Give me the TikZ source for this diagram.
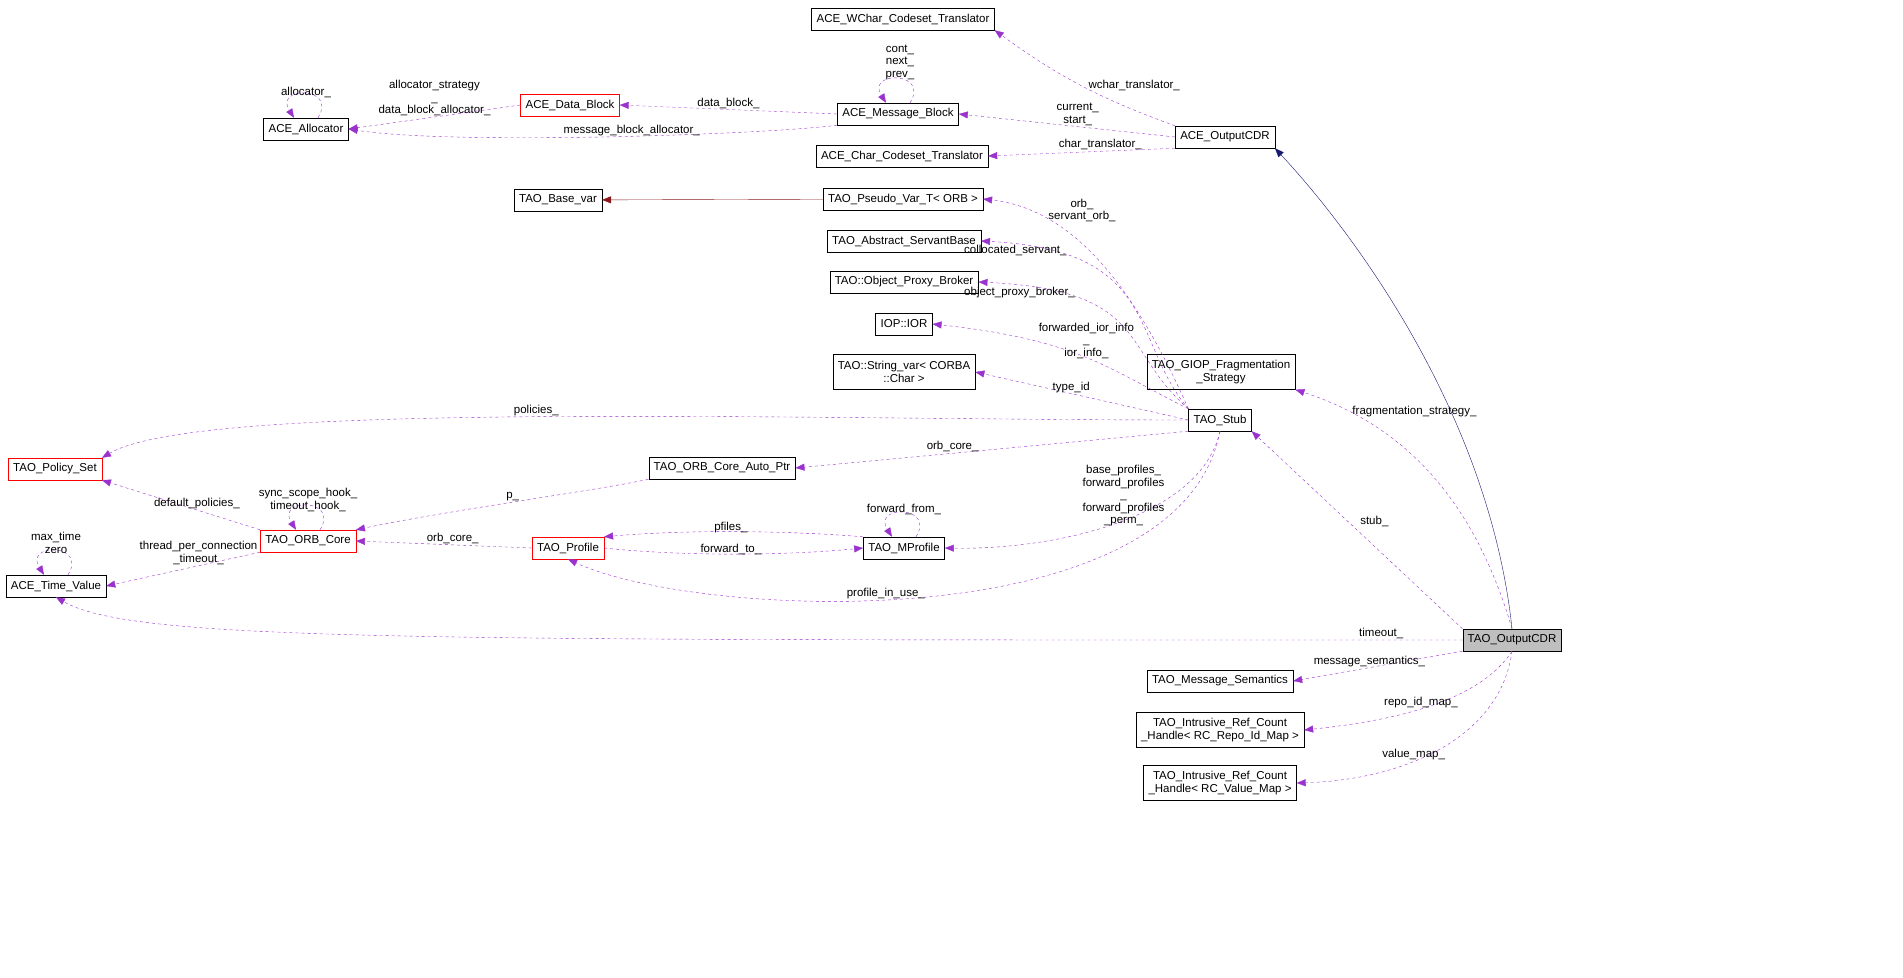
\documentclass[tikz,border=0pt]{standalone}
\usepackage{fontspec}
\setmainfont{Liberation Sans}
\usetikzlibrary{arrows.meta,calc}
\definecolor{pur}{HTML}{9A32CD}
\definecolor{nav}{HTML}{191970}
\definecolor{drd}{HTML}{8B1A1A}
\begin{document}
\begin{tikzpicture}[x=1pt,y=-1pt,
  box/.style={draw=black,fill=white,font=\fontsize{11.5}{13}\selectfont,inner xsep=5pt,inner ysep=0pt,minimum height=22pt,align=center},
  rbox/.style={box,draw=red},
  lbl/.style={font=\fontsize{11.5}{12.5}\selectfont,align=center,inner sep=1pt},
  dep/.style={draw=pur,dashed,-{Triangle[length=9pt,width=7pt]}}]
\useasboundingbox (0,0) rectangle (1903,977);
\newcommand{\selfloop}[1]{\draw[dep] ($(#1.north)+(12,0)$) .. controls ($(#1.north)+(32,-32)$) and ($(#1.north)+(-32,-32)$) .. ($(#1.north)+(-12,0)$);}
\node[box] (wchar) at (903,19) {ACE\_WChar\_Codeset\_Translator};
\node[box] (alloc) at (306,129) {ACE\_Allocator};
\node[rbox] (dblock) at (570,105) {ACE\_Data\_Block};
\node[box] (mblock) at (898,114) {ACE\_Message\_Block};
\node[box] (acecdr) at (1225,137) {ACE\_OutputCDR};
\node[box] (cchar) at (902,156) {ACE\_Char\_Codeset\_Translator};
\node[box] (basevar) at (558,200) {TAO\_Base\_var};
\node[box] (pseudo) at (903,199) {TAO\_Pseudo\_Var\_T< ORB >};
\node[box] (servant) at (904,241) {TAO\_Abstract\_ServantBase};
\node[box] (proxy) at (904,282) {TAO::Object\_Proxy\_Broker};
\node[box] (ior) at (904,324) {IOP::IOR};
\node[box,minimum height=35pt] (strvar) at (904,372) {TAO::String\_var< CORBA\\::Char >};
\node[box,minimum height=35pt] (giop) at (1221,372) {TAO\_GIOP\_Fragmentation\\\_Strategy};
\node[box] (stub) at (1220,420) {TAO\_Stub};
\node[rbox] (policy) at (55,469) {TAO\_Policy\_Set};
\node[box] (autoptr) at (722,468) {TAO\_ORB\_Core\_Auto\_Ptr};
\node[rbox] (orbcore) at (308,541) {TAO\_ORB\_Core};
\node[box] (timev) at (56,586) {ACE\_Time\_Value};
\node[rbox] (profile) at (568,548) {TAO\_Profile};
\node[box] (mprof) at (904,548) {TAO\_MProfile};
\node[box,fill=black!25] (cdr) at (1512,640) {TAO\_OutputCDR};
\node[box] (msem) at (1220,681) {TAO\_Message\_Semantics};
\node[box,minimum height=35pt] (repo) at (1220,730) {TAO\_Intrusive\_Ref\_Count\\\_Handle< RC\_Repo\_Id\_Map >};
\node[box,minimum height=35pt] (vmap) at (1220,783) {TAO\_Intrusive\_Ref\_Count\\\_Handle< RC\_Value\_Map >};

% inheritance
\draw[draw=nav,-{Triangle[length=9pt,width=7pt]}] (cdr.north) .. controls (1490,420) and (1360,240) .. (acecdr.south east);
\draw[draw=drd,-{Triangle[length=9pt,width=7pt]}] (pseudo) -- (basevar);

% ACE_OutputCDR
\draw[dep] (acecdr.north west) to[bend left=8] node[lbl,pos=0.45,above right=-2pt] {wchar\_translator\_} (wchar.south east) ;
\draw[dep] (acecdr.west) -- node[lbl,above,pos=0.45] {current\_\\start\_} (mblock.east);
\draw[dep] (acecdr.south west) -- node[lbl,above,pos=0.4] {char\_translator\_} (cchar.east);
\draw[dep] (mblock.west) -- node[lbl,above] {data\_block\_} (dblock.east);
\draw[dep] (mblock.south west) .. controls (760,135) and (450,145) .. node[lbl,pos=0.45,above=-1pt] {message\_block\_allocator\_} (alloc.east);
\draw[dep] (dblock.west) -- node[lbl,above,pos=0.5] {allocator\_strategy\\\_\\data\_block\_allocator\_} (alloc.east);
\selfloop{alloc}
\node[lbl] at (306,92) {allocator\_};
\selfloop{mblock}
\node[lbl] at (900,62) {cont\_\\next\_\\prev\_};

% TAO_Stub
\draw[dep] (stub.north west) .. controls (1140,300) and (1080,210) .. node[lbl,pos=0.75,above right=-2pt] {orb\_\\servant\_orb\_} (pseudo.east);
\draw[dep] (stub.north west) .. controls (1130,340) and (1160,250) .. node[lbl,pos=0.8,above left=-2pt] {collocated\_servant\_} (servant.east);
\draw[dep] (stub.north west) .. controls (1120,350) and (1150,290) .. node[lbl,pos=0.75,above left=-2pt] {object\_proxy\_broker\_} (proxy.east);
\draw[dep] (stub.north west) .. controls (1110,370) and (1080,340) .. node[lbl,pos=0.5,above=-2pt] {forwarded\_ior\_info\\\_\\ior\_info\_} (ior.east);
\draw[dep] (stub.west) -- node[lbl,above,pos=0.55] {type\_id} (strvar.east);
\draw[dep] (stub.west) .. controls (800,420) and (200,400) .. node[lbl,above,pos=0.5] {policies\_} (policy.north east);
\draw[dep] (stub.south west) -- node[lbl,above,pos=0.6] {orb\_core\_} (autoptr.east);
\draw[dep] (stub.south) .. controls (1200,520) and (1050,550) .. node[lbl,pos=0.3,left=6pt] {base\_profiles\_\\forward\_profiles\\\_\\forward\_profiles\\\_perm\_} (mprof.east);
\draw[dep] (stub.south) .. controls (1180,640) and (700,620) .. node[lbl,pos=0.55,above=-1pt] {profile\_in\_use\_} (profile.south);

% ORB core etc
\draw[dep] (autoptr.south west) .. controls (600,490) and (450,510) .. node[lbl,pos=0.5,above left=-1pt] {p\_} (orbcore.north east);
\draw[dep] (orbcore.north west) -- node[lbl,above,pos=0.4] {default\_policies\_} (policy.south east);
\selfloop{orbcore}
\node[lbl] at (308,500) {sync\_scope\_hook\_\\timeout\_hook\_};
\draw[dep] (orbcore.south west) -- node[lbl,above,pos=0.4] {thread\_per\_connection\\\_timeout\_} (timev.east);
\selfloop{timev}
\node[lbl] at (56,543) {max\_time\\zero};
\draw[dep] (profile.west) -- node[lbl,above,pos=0.45] {orb\_core\_} (orbcore.east);
\draw[dep] (mprof.north west) .. controls (780,530) and (680,530) .. node[lbl,above=-2pt,pos=0.5] {pfiles\_} (profile.north east);
\draw[dep] (profile.east) .. controls (680,556) and (780,556) .. node[lbl,above=-2pt,pos=0.5] {forward\_to\_} (mprof.west);
\selfloop{mprof}
\node[lbl] at (904,509) {forward\_from\_};

% TAO_OutputCDR
\draw[dep] (cdr.north west) -- node[lbl,pos=0.5,above right=2pt] {stub\_} (stub.south east);
\draw[dep] (cdr.north) .. controls (1480,520) and (1420,430) .. node[lbl,pos=0.85,right=4pt] {fragmentation\_strategy\_} (giop.south east);
\draw[dep] (cdr.west) -- node[lbl,above,pos=0.5] {timeout\_} (1300,640) .. controls (400,640) and (130,640) .. (timev.south);
\draw[dep] (cdr.south west) -- node[lbl,above,pos=0.55] {message\_semantics\_} (msem.east);
\draw[dep] (cdr.south) .. controls (1480,700) and (1400,720) .. node[lbl,above,pos=0.55] {repo\_id\_map\_} (repo.east);
\draw[dep] (cdr.south) .. controls (1500,740) and (1400,780) .. node[lbl,above,pos=0.6] {value\_map\_} (vmap.east);
\end{tikzpicture}
\end{document}
